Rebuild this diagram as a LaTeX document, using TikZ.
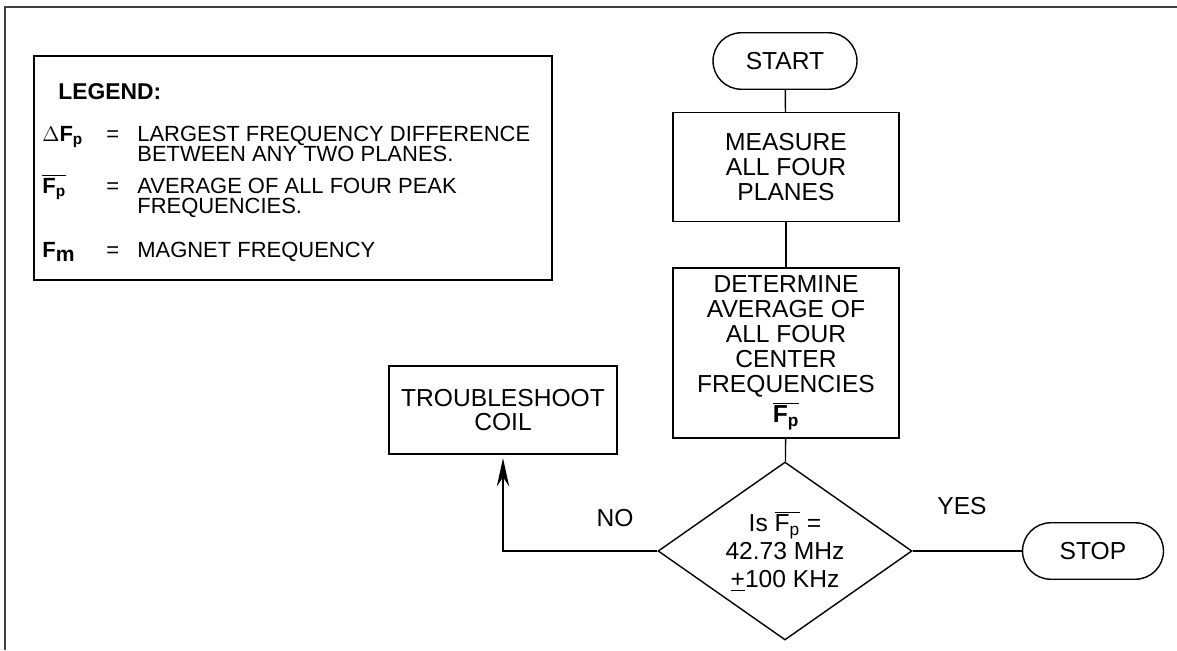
\documentclass[tikz,border=0pt]{standalone}
\usepackage{fontspec}
\setmainfont{Liberation Sans}
\usetikzlibrary{arrows.meta,shapes.geometric,shapes.misc}
\newcommand{\Fpbar}{$\overline{\hbox{\bfseries F\textsubscript{p}}}$}
\newcommand{\Fpthin}{$\overline{\hbox{F\textsubscript{p}}}$}

\begin{document}
\begin{tikzpicture}[x=0.02cm,y=-0.02cm,
 every node/.style={font=\fontsize{14}{14.2}\selectfont},
 box/.style={draw,line width=0.8pt,align=center,inner sep=0pt},
 term/.style={draw,rounded rectangle,line width=0.8pt,inner sep=0pt,minimum height=1.13cm},
 legtext/.style={anchor=base west,inner sep=0pt,font=\fontsize{12.5}{12.5}\selectfont},
 link/.style={line width=0.8pt}]
\useasboundingbox (0,0) rectangle (1177,650);
% ---------- frame
\draw[line width=1.7pt,black!75] (5,650) -- (5,7) -- (1177,7);
% ---------- legend
\draw[line width=0.8pt] (34,56) rectangle (552,280);
\node[legtext,font=\fontsize{13}{13}\bfseries] (leghead) at (58,99) {LEGEND:};
\node[legtext] (symdelta) at (42,141) {$\Delta$\textbf{F\textsubscript{p}}};
\node[legtext] (eqdelta) at (106,141) {=};
\node[legtext] (txtdelta) at (137,141) {LARGEST FREQUENCY DIFFERENCE};
\node[legtext] (txtdeltb) at (137,161) {BETWEEN ANY TWO PLANES.};
\node[legtext] (symavg) at (42,193) {\Fpbar};
\node[legtext] (eqavg) at (106,193) {=};
\node[legtext] (txtavg) at (137,193) {AVERAGE OF ALL FOUR PEAK};
\node[legtext] (txtavgb) at (137,213) {FREQUENCIES.};
\node[legtext] (symmag) at (42,257) {\textbf{F\textsubscript{\large m}}};
\node[legtext] (eqmag) at (106,257) {=};
\node[legtext] (txtmag) at (137,257) {MAGNET FREQUENCY};
% ---------- flow
\node[term,minimum width=2.88cm] (start) at (785,61) {START};
\node[box,minimum width=4.52cm,minimum height=2.18cm] (measure) at (786,167) {MEASURE\\ALL FOUR\\PLANES};
\node[box,minimum width=4.52cm,minimum height=3.4cm] (determine) at (786,353)
 {DETERMINE\\AVERAGE OF\\ALL FOUR\\CENTER\\FREQUENCIES\\[2pt]\Fpbar};
\node[draw,diamond,aspect=1.45,minimum width=5.08cm,minimum height=3.56cm,inner sep=0pt,
 align=center,line width=0.8pt,font=\fontsize{14}{16}\selectfont] (check) at (785,551)
 {Is \Fpthin\ =\\42.73 MHz\\\underline{+}100 KHz};
\node[term,minimum width=2.82cm] (stop) at (1093,551) {STOP};
\node[box,minimum width=4.56cm,minimum height=1.76cm] (trouble) at (503,410) {TROUBLESHOOT\\COIL};
\node (nolab) at (615,518) {NO};
\node (yeslab) at (962,506) {YES};
\draw[link] (start) -- (measure);
\draw[link] (measure) -- (determine);
\draw[link] (determine) -- (check);
\draw[link,-{Stealth[length=16pt,width=7pt]},shorten >=2pt] (check.west) -| (trouble.south);
\draw[link] (check.east) -- (stop.west);
\end{tikzpicture}
\end{document}
